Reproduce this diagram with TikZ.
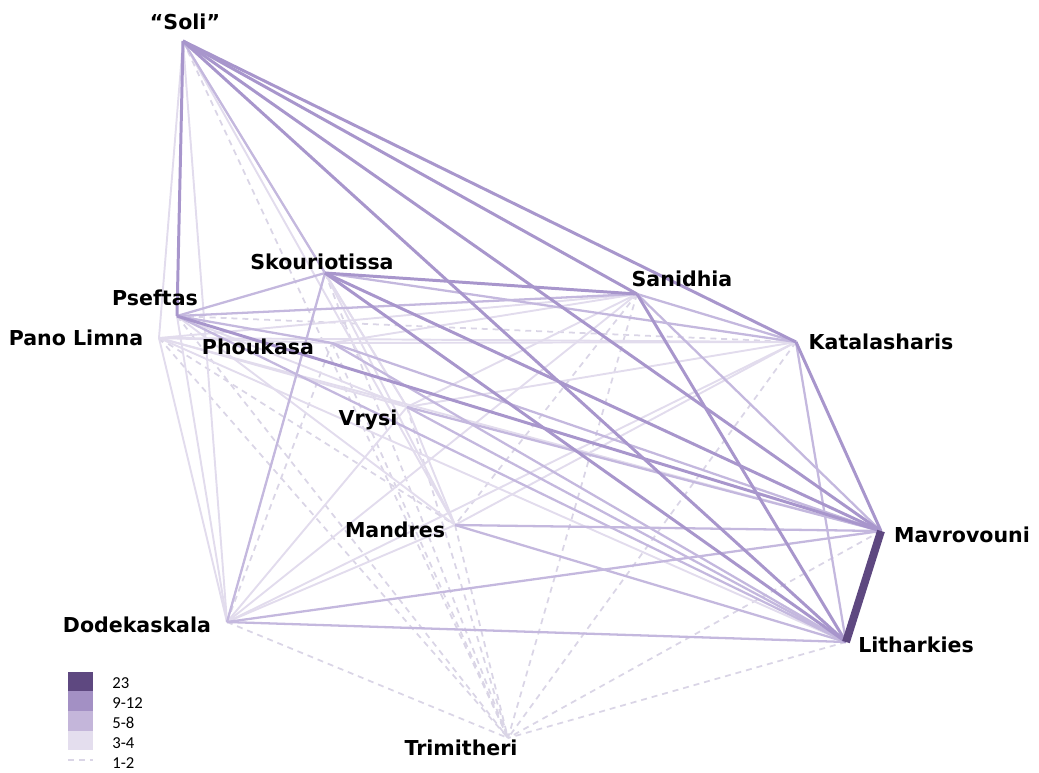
\documentclass[tikz,border=0pt]{standalone}
\usepackage{fontspec}
\setmainfont{DejaVu Sans}
\newfontfamily\legendfont{Carlito}
\usepackage{tikz}
\usetikzlibrary{positioning}
\definecolor{lnkdark}{RGB}{94,72,128}
\definecolor{lnkhigh}{RGB}{168,150,204}
\definecolor{lnkmid}{RGB}{196,184,222}
\definecolor{lnklow}{RGB}{226,220,237}
\definecolor{lnkfew}{RGB}{218,213,230}
\definecolor{lgdhigh}{RGB}{163,144,196}
\definecolor{lgdmid}{RGB}{196,182,218}
\definecolor{lgdlow}{RGB}{228,222,238}
\tikzset{
  site/.style={font=\fontsize{11.7}{14}\selectfont\bfseries, inner sep=0pt},
  lgdtext/.style={font=\legendfont\fontsize{9.5}{11}\selectfont, inner sep=0pt, anchor=west},
  link23/.style={line width=4.5pt, color=lnkdark},
  linkhigh/.style={line width=1.7pt, color=lnkhigh},
  linkmid/.style={line width=1.3pt, color=lnkmid},
  linklow/.style={line width=1.1pt, color=lnklow},
  linkfew/.style={line width=1pt, color=lnkfew, dash pattern=on 3.4pt off 2.8pt}
}

\begin{document}
\begin{tikzpicture}[x=0.02cm, y=-0.02cm]
  \useasboundingbox (0,0) rectangle (1039,772);
  % Sites
  \coordinate (soli) at (183,41);
  \coordinate (pseftas) at (177,316);
  \coordinate (plimna) at (159,338);
  \coordinate (skour) at (325,273);
  \coordinate (phouk) at (332,343);
  \coordinate (vrysi) at (407,407);
  \coordinate (mandres) at (455,525);
  \coordinate (sanid) at (637,294);
  \coordinate (katal) at (796,342);
  \coordinate (mavro) at (881,531);
  \coordinate (lithar) at (846,642);
  \coordinate (dodek) at (227,622);
  \coordinate (trim) at (508,738);

  % 1-2 links
  \foreach \a/\b in {soli/trim, pseftas/trim, plimna/trim, plimna/mandres, skour/trim,
      phouk/trim, vrysi/trim, mandres/trim, sanid/trim, katal/trim, mavro/trim,
      lithar/trim, dodek/trim, dodek/phouk, sanid/mandres, pseftas/katal, skour/dodek}
    \draw[linkfew] (\a) -- (\b);
  % 3-4 links
  \foreach \a/\b in {soli/plimna, soli/dodek, soli/vrysi, soli/mandres, plimna/sanid,
      plimna/katal, plimna/mavro, plimna/lithar, plimna/dodek, plimna/vrysi, plimna/phouk,
      pseftas/dodek, pseftas/vrysi, pseftas/mandres, skour/vrysi, skour/mandres,
      phouk/sanid, phouk/katal, vrysi/sanid, vrysi/katal, vrysi/dodek, mandres/katal,
      mandres/dodek, sanid/dodek, katal/dodek, vrysi/mandres}
    \draw[linklow] (\a) -- (\b);
  % 5-8 links
  \foreach \a/\b in {soli/skour, pseftas/skour, pseftas/sanid, pseftas/lithar,
      pseftas/phouk, skour/katal, skour/dodek, phouk/mavro, phouk/lithar, vrysi/mavro,
      vrysi/lithar, mandres/mavro, mandres/lithar, sanid/katal, sanid/mavro,
      katal/lithar, mavro/dodek, lithar/dodek}
    \draw[linkmid] (\a) -- (\b);
  % 9-12 links
  \foreach \a/\b in {soli/pseftas, soli/sanid, soli/katal, soli/mavro, soli/lithar,
      skour/sanid, skour/mavro, skour/lithar, pseftas/mavro, sanid/lithar, katal/mavro}
    \draw[linkhigh] (\a) -- (\b);
  % 23 links
  \draw[link23] (mavro) -- (lithar);

  % Labels
  \node[site] (soliL) at (185,22) {“Soli”};
  \node[site] (pseftasL) at (155,298) {Pseftas};
  \node[site] (plimnaL) at (76,338) {Pano Limna};
  \node[site] (skourL) at (322,262) {Skouriotissa};
  \node[site] (phoukL) at (258,347) {Phoukasa};
  \node[site] (vrysiL) at (368,420) {Vrysi};
  \node[site] (mandresL) at (395,530) {Mandres};
  \node[site] (sanidL) at (682,279) {Sanidhia};
  \node[site] (katalL) at (881,342) {Katalasharis};
  \node[site] (mavroL) at (962,535) {Mavrovouni};
  \node[site] (litharL) at (916,645) {Litharkies};
  \node[site] (dodekL) at (137,625) {Dodekaskala};
  \node[site] (trimL) at (461,748) {Trimitheri};

  % Legend
  \fill[lnkdark] (68,672) rectangle (93,691);
  \fill[lgdhigh] (68,691) rectangle (93,711);
  \fill[lgdmid] (68,711) rectangle (93,731);
  \fill[lgdlow] (68,731) rectangle (93,750);
  \draw[linkfew] (68,760) -- (93,760);
  \node[lgdtext] (lgd23) at (112,683) {23};
  \node[lgdtext] (lgdhigh) at (112,703) {9-12};
  \node[lgdtext] (lgdmid) at (112,723) {5-8};
  \node[lgdtext] (lgdlow) at (112,743) {3-4};
  \node[lgdtext] (lgdfew) at (112,763) {1-2};
\end{tikzpicture}
\end{document}
